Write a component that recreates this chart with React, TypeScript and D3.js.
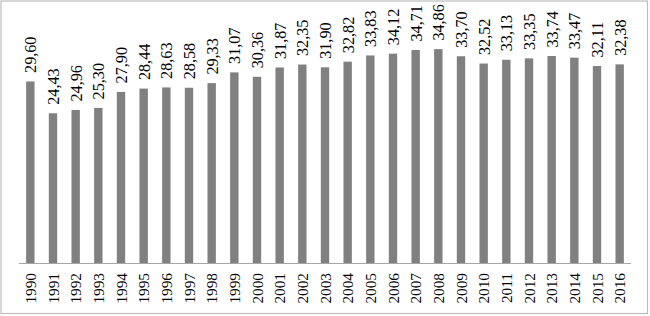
import React from "react";
import * as d3 from "d3";

const years = ["1990","1991","1992","1993","1994","1995","1996","1997","1998","1999","2000","2001","2002","2003","2004","2005","2006","2007","2008","2009","2010","2011","2012","2013","2014","2015","2016"];
const values = [29.60,24.43,24.96,25.30,27.90,28.44,28.63,28.58,29.33,31.07,30.36,31.87,32.35,31.90,32.82,33.83,34.12,34.71,34.86,33.70,32.52,33.13,33.35,33.74,33.47,32.11,32.38];

const W = 650, H = 316;
const left = 19, right = 631, base = 263.5;

export default function App() {
  const x = d3.scaleBand<string>().domain(years).range([left, right]).paddingInner(0.63).paddingOuter(0.315);
  const y = d3.scaleLinear().domain([0, 40]).range([base, base - 246]);
  const fmt = (v: number) => v.toFixed(2).replace(".", ",");
  const font = "'Liberation Serif', 'Times New Roman', serif";
  return (
    <svg width={W} height={H} style={{ position: "absolute", left: 0, top: 0, background: "#fff" }}>
      <rect x={1} y={1} width={646.5} height={312.5} fill="#fff" stroke="#bdbdbd" strokeWidth={1.2} />
      {years.map((yr, i) => {
        const cx = (x(yr) as number) + x.bandwidth() / 2;
        const top = y(values[i]);
        return (
          <g key={yr}>
            <rect x={x(yr)} y={top} width={x.bandwidth()} height={base - top} fill="#808080" />
            <text
              transform={`translate(${cx + 6},${top - 8.5}) rotate(-90)`}
              fontFamily={font}
              fontSize={16.2}
              fill="#000"
            >
              {fmt(values[i])}
            </text>
            <text
              transform={`translate(${cx + 5.5},${base + 9.5}) rotate(-90)`}
              textAnchor="end"
              fontFamily={font}
              fontSize={15.3}
              fill="#000"
            >
              {yr}
            </text>
          </g>
        );
      })}
      <line x1={left} x2={right} y1={base} y2={base} stroke="#a6a6a6" strokeWidth={1} />
    </svg>
  );
}
